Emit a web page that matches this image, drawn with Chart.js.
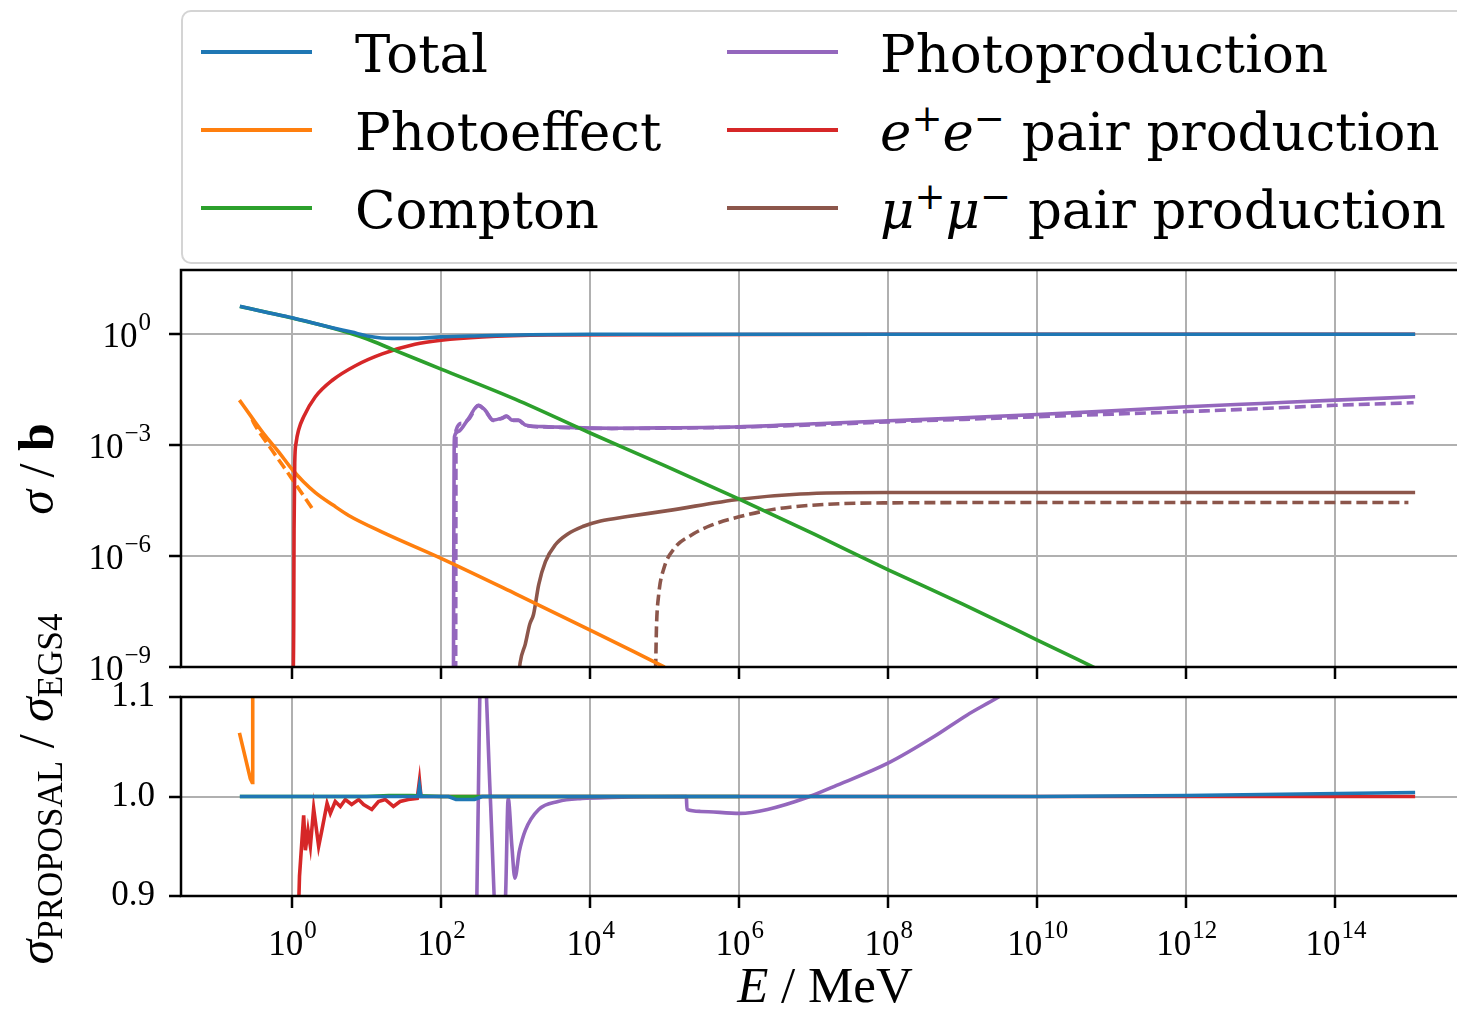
<!DOCTYPE html>
<html>
<head>
<meta charset="utf-8">
<script src="https://cdn.jsdelivr.net/npm/chart.js@4.4.1/dist/chart.umd.min.js"></script>
<style>
html, body { margin: 0; padding: 0; background: #fff; }
body { width: 1457px; height: 1013px; overflow: hidden; position: relative; font-family: "DejaVu Serif", serif; }
canvas { position: absolute; left: 0; top: 0; }
#legendBox { position: absolute; left: 181px; top: 10px; width: 1330px; height: 254px; box-sizing: border-box;
  border: 2.5px solid #d4d4d4; border-radius: 10px; background: #fff; }
.handle { position: absolute; width: 111px; height: 4px; }
.lbl { position: absolute; font-size: 53px; line-height: 62px; white-space: nowrap; color: #000; }
.lbl sup { font-size: 0.7em; vertical-align: 0.5em; line-height: 0; }
.ylab { position: absolute; font-family: "Liberation Serif", serif; font-size: 50px; line-height: 50px; white-space: nowrap;
  transform: translate(-50%, -50%) rotate(-90deg); color: #000; }
.ylab sub { font-size: 0.7em; vertical-align: -0.25em; line-height: 0; }
#xlab { position: absolute; left: 825px; top: 960px; transform: translateX(-50%); font-family: "Liberation Serif", serif;
  font-size: 51px; line-height: 51px; white-space: nowrap; color: #000; }
</style>
</head>
<body>
<canvas id="sigmaChart" width="1500" height="1013"></canvas>
<canvas id="ratioChart" width="1500" height="1013"></canvas>
<div id="legendBox"></div>
<div class="ylab" style="left:36px; top:469px;"><i>σ</i> / <b>b</b></div>
<div class="ylab" style="left:36px; top:789px;"><i>σ</i><sub>PROPOSAL</sub> / <i>σ</i><sub>EGS4</sub></div>
<div id="xlab"><i>E</i> / MeV</div>

<script>
// values: log10(E / MeV) and log10(sigma / b)
const totalLogE   = [-0.70, -0.35, 0.00, 0.27, 0.54, 0.80, 1.03, 1.34, 1.65, 2.00, 2.55, 3.20, 4.00, 6.00, 8.00, 10.00, 12.00, 15.07];
const totalLogSig = [0.76, 0.60, 0.45, 0.31, 0.18, 0.06, -0.05, -0.11, -0.11, -0.07, -0.04, -0.01, 0.00, 0.00, 0.00, 0.00, 0.00, 0.00];

const comptonLogE   = [-0.70, 0.00, 0.54, 1.00, 1.34, 2.00, 3.00, 4.00, 5.00, 6.00, 7.00, 8.00, 9.00, 10.00, 10.80];
const comptonLogSig = [0.75, 0.44, 0.17, -0.12, -0.40, -0.94, -1.76, -2.67, -3.55, -4.46, -5.40, -6.37, -7.30, -8.27, -9.05];

const pairLogE   = [0.010, 0.022, 0.027, 0.036, 0.054, 0.089, 0.156, 0.313, 0.536, 0.85, 1.21, 1.65, 2.00, 2.55, 3.44, 5.00, 8.00, 15.07];
const pairLogSig = [-10.0, -7.93, -5.26, -3.48, -2.94, -2.58, -2.23, -1.69, -1.25, -0.85, -0.53, -0.27, -0.16, -0.07, -0.02, -0.01, 0.00, 0.00];

const photoLogE   = [-0.706, -0.55, -0.357, -0.18, 0.00, 0.15, 0.313, 0.55, 0.76, 1.21, 2.00, 3.00, 4.00, 4.88, 5.00];
const photoLogSig = [-1.78, -2.22, -2.75, -3.18, -3.65, -3.98, -4.28, -4.62, -4.90, -5.35, -6.06, -7.02, -8.00, -8.88, -9.00];
const photoEgsLogE   = [-0.535, -0.51, -0.27, 0.00, 0.29];
const photoEgsLogSig = [-2.30, -2.41, -3.13, -3.91, -4.77];

const photonucLogE   = [2.165, 2.170, 2.175, 2.18, 2.23, 2.37, 2.50, 2.59, 2.70, 2.81, 2.88, 2.95, 3.04, 3.13, 3.44, 4.29, 5.00, 6.00, 7.00, 8.00, 9.00, 10.00, 11.00, 12.00, 13.00, 14.00, 15.07];
const photonucLogSig = [-10.0, -6.0, -3.2, -2.76, -2.63, -2.27, -1.92, -2.05, -2.32, -2.27, -2.21, -2.32, -2.32, -2.45, -2.50, -2.54, -2.53, -2.50, -2.42, -2.34, -2.26, -2.17, -2.07, -1.96, -1.87, -1.78, -1.69];
const photonucEgsLogE   = [2.195, 2.198, 2.20, 2.28, 2.37, 2.50, 2.59, 2.70, 2.81, 2.88, 2.95, 3.04, 3.13, 3.44, 4.29, 5.00, 6.00, 7.00, 8.00, 9.00, 10.00, 11.00, 12.00, 13.00, 14.00, 15.05];
const photonucEgsLogSig = [-10.0, -6.0, -2.60, -2.41, -2.30, -1.93, -2.06, -2.33, -2.28, -2.22, -2.33, -2.33, -2.46, -2.51, -2.55, -2.54, -2.51, -2.45, -2.37, -2.30, -2.23, -2.16, -2.09, -2.01, -1.92, -1.85];

const muLogE   = [3.04, 3.06, 3.13, 3.19, 3.24, 3.31, 3.40, 3.53, 3.70, 3.90, 4.14, 4.50, 5.04, 6.01, 6.82, 8.00, 10.00, 15.07];
const muLogSig = [-9.30, -8.89, -8.38, -7.84, -7.58, -6.77, -6.15, -5.70, -5.40, -5.20, -5.05, -4.93, -4.77, -4.46, -4.32, -4.28, -4.28, -4.28];
const muEgsLogE   = [4.87, 4.88, 4.89, 4.92, 4.99, 5.13, 5.35, 5.62, 6.01, 6.51, 7.27, 8.00, 10.00, 14.98];
const muEgsLogSig = [-9.50, -8.89, -7.93, -7.04, -6.33, -5.79, -5.44, -5.17, -4.93, -4.72, -4.59, -4.56, -4.55, -4.55];

// ratio panel: sigma_PROPOSAL / sigma_EGS4
const ratioTotalLogE = [-0.70, 1.00, 1.69, 1.71, 1.73, 2.10, 2.20, 2.45, 2.55, 5.00, 10.00, 12.00, 15.07];
const ratioTotal     = [1.000, 1.000, 1.000, 1.010, 1.000, 1.000, 0.997, 0.997, 1.000, 1.000, 1.000, 1.001, 1.004];
const ratioComptonLogE = [-0.70, 1.00, 1.30, 1.60, 2.00, 4.00, 6.00];
const ratioCompton     = [1.000, 1.000, 1.001, 1.001, 1.000, 1.000, 1.000];
const ratioPhotoLogE = [-0.706, -0.63, -0.56, -0.535, -0.53, -0.525];
const ratioPhoto     = [1.064, 1.040, 1.018, 1.014, 1.060, 1.130];
const ratioPairLogE = [0.085, 0.10, 0.156, 0.179, 0.214, 0.246, 0.29, 0.357, 0.40, 0.47, 0.514, 0.58, 0.648, 0.715, 0.80, 0.894, 0.96, 1.07, 1.16, 1.25, 1.36, 1.45, 1.56, 1.68, 1.71, 1.73, 2.00, 5.00, 15.07];
const ratioPair     = [0.880, 0.920, 0.981, 0.946, 0.966, 0.950, 0.988, 0.950, 0.966, 0.993, 0.983, 0.995, 0.990, 0.997, 0.992, 0.997, 0.992, 0.987, 0.995, 0.997, 0.990, 0.995, 0.997, 0.998, 1.016, 1.000, 1.000, 1.000, 1.000];
const ratioPhotonucLogE = [2.47, 2.50, 2.53, 2.555, 2.58, 2.66, 2.76, 2.84, 2.865, 2.90, 2.95, 2.99, 3.05, 3.13, 3.31, 3.57, 3.89, 4.29, 5.29, 5.30, 5.48, 6.01, 6.38, 6.91, 7.27, 8.01, 8.61, 9.06, 9.48, 9.77];
const ratioPhotonuc     = [0.850, 1.000, 1.150, 1.170, 1.150, 1.000, 0.850, 0.880, 0.900, 0.998, 0.950, 0.918, 0.945, 0.966, 0.987, 0.995, 0.998, 0.999, 1.000, 0.987, 0.985, 0.983, 0.987, 0.999, 1.010, 1.034, 1.060, 1.082, 1.100, 1.114];

// axes
const xTickExps = [0, 2, 4, 6, 8, 10, 12, 14];
const sigmaTickExps = [0, -3, -6, -9];
const ratioTicks = [0.9, 1.0, 1.1];

const seriesNames = ["Total", "Photoeffect", "Compton", "Photoproduction",
  "<i>e</i><sup>+</sup><i>e</i><sup>\u2212</sup> pair production",
  "<i>\u03bc</i><sup>+</sup><i>\u03bc</i><sup>\u2212</sup> pair production"];
const seriesColors = ["#1f77b4", "#ff7f0e", "#2ca02c", "#9467bd", "#d62728", "#8c564b"];

// legend (two columns, filled column first)
const box = document.body;
seriesNames.forEach((name, i) => {
    const col = Math.floor(i / 3), row = i % 3;
    const cy = [52, 130, 208][row];
    const h = document.createElement("div");
    h.className = "handle";
    h.style.left = [201, 727][col] + "px";
    h.style.top = (cy - 2) + "px";
    h.style.background = seriesColors[i];
    box.appendChild(h);
    const t = document.createElement("div");
    t.className = "lbl";
    t.style.left = [355, 880][col] + "px";
    t.style.top = (cy - 29) + "px";
    t.innerHTML = name;
    box.appendChild(t);
});

const logPts = (xs, ys) => xs.map((v, i) => ({x: Math.pow(10, v), y: Math.pow(10, ys[i])}));
const ratioPts = (xs, ys) => xs.map((v, i) => ({x: Math.pow(10, v), y: ys[i]}));

function line(data, color, dashed) {
    return {
        data: data,
        borderColor: color,
        borderWidth: 3.6,
        borderDash: dashed ? [11, 5] : [],
        pointRadius: 0,
        fill: false
    };
}

// black frame round the plot area
const frame = {
    id: "frame",
    afterDatasetsDraw(chart) {
        const ctx = chart.ctx, a = chart.chartArea;
        ctx.save();
        ctx.strokeStyle = "#000";
        ctx.lineWidth = 2.5;
        ctx.strokeRect(a.left, a.top, a.right - a.left, a.bottom - a.top);
        ctx.restore();
    }
};

// 10^n tick labels
const powerTicks = {
    id: "powerTicks",
    afterDraw(chart, args, opts) {
        const ctx = chart.ctx;
        const scale = chart.scales[opts.axis];
        ctx.save();
        ctx.fillStyle = "#000";
        ctx.textAlign = "left";
        ctx.textBaseline = "alphabetic";
        opts.exps.forEach(e => {
            const p = scale.getPixelForValue(Math.pow(10, e));
            const sup = e < 0 ? "\u2212" + (-e) : String(e);
            ctx.font = '35px "Liberation Serif"';
            const wb = ctx.measureText("10").width;
            ctx.font = '25px "Liberation Serif"';
            const ws = ctx.measureText(sup).width;
            let x, y;
            if (opts.axis === "x") {
                x = p - (wb + ws) / 2;
                y = chart.chartArea.bottom + 59;
            } else {
                x = chart.chartArea.left - 31 - wb - ws;
                y = p + 13;
            }
            ctx.font = '35px "Liberation Serif"';
            ctx.fillText("10", x, y);
            ctx.font = '25px "Liberation Serif"';
            ctx.fillText(sup, x + wb + 1, y - 17);
        });
        ctx.restore();
    }
};

const gridStyle = {color: "#b0b0b0", lineWidth: 2, drawTicks: true, tickLength: 12, tickColor: "#000", tickWidth: 2.5};

function xAxis(h) {
    return {
        type: "logarithmic",
        min: Math.pow(10, -1.49),
        max: Math.pow(10, 15.86),
        afterBuildTicks: s => { s.ticks = xTickExps.map(e => ({value: Math.pow(10, e)})); },
        afterFit: s => { s.height = h; },
        ticks: {display: false},
        grid: gridStyle,
        border: {display: false}
    };
}

// CROSS SECTIONS
new Chart(document.getElementById("sigmaChart"), {
    type: "line",
    data: {
        datasets: [
            line(logPts(totalLogE, totalLogSig), seriesColors[0]),
            line(logPts(comptonLogE, comptonLogSig), seriesColors[2]),
            line(logPts(pairLogE, pairLogSig), seriesColors[4]),
            line(logPts(photoLogE, photoLogSig), seriesColors[1]),
            line(logPts(photoEgsLogE, photoEgsLogSig), seriesColors[1], true),
            line(logPts(photonucLogE, photonucLogSig), seriesColors[3]),
            line(logPts(photonucEgsLogE, photonucEgsLogSig), seriesColors[3], true),
            line(logPts(muLogE, muLogSig), seriesColors[5]),
            line(logPts(muEgsLogE, muEgsLogSig), seriesColors[5], true)
        ]
    },
    options: {
        responsive: false,
        animation: false,
        events: [],
        cubicInterpolationMode: "monotone",
        layout: {autoPadding: false, padding: {top: 270, right: 26, bottom: 0, left: 0}},
        scales: {
            x: xAxis(346),
            y: {
                type: "logarithmic",
                min: 1e-9,
                max: Math.pow(10, 1.74),
                afterBuildTicks: s => { s.ticks = sigmaTickExps.map(e => ({value: Math.pow(10, e)})); },
                afterFit: s => { s.width = 181; },
                ticks: {display: false},
                grid: gridStyle,
                border: {display: false}
            }
        },
        plugins: {
            legend: {display: false},
            tooltip: {enabled: false},
            powerTicks: {axis: "y", exps: sigmaTickExps}
        }
    },
    plugins: [frame, powerTicks]
});

// RATIO
const photonucRatioLine = line(ratioPts(ratioPhotonucLogE, ratioPhotonuc), seriesColors[3]);
photonucRatioLine.cubicInterpolationMode = "monotone";

new Chart(document.getElementById("ratioChart"), {
    type: "line",
    data: {
        datasets: [
            line(ratioPts(ratioTotalLogE, ratioTotal), seriesColors[0]),
            line(ratioPts(ratioComptonLogE, ratioCompton), seriesColors[2]),
            line(ratioPts(ratioPairLogE, ratioPair), seriesColors[4]),
            line(ratioPts(ratioPhotoLogE, ratioPhoto), seriesColors[1]),
            photonucRatioLine
        ]
    },
    options: {
        responsive: false,
        animation: false,
        events: [],
        layout: {autoPadding: false, padding: {top: 697, right: 26, bottom: 0, left: 0}},
        scales: {
            x: xAxis(117),
            y: {
                type: "linear",
                min: 0.9,
                max: 1.1,
                afterBuildTicks: s => { s.ticks = ratioTicks.map(v => ({value: v})); },
                afterFit: s => { s.width = 181; },
                ticks: {
                    color: "#000",
                    padding: 14,
                    font: {family: "Liberation Serif", size: 35},
                    callback: v => v.toFixed(1)
                },
                grid: gridStyle,
                border: {display: false}
            }
        },
        plugins: {
            legend: {display: false},
            tooltip: {enabled: false},
            powerTicks: {axis: "x", exps: xTickExps}
        }
    },
    plugins: [frame, powerTicks]
});
</script>
</body>
</html>
